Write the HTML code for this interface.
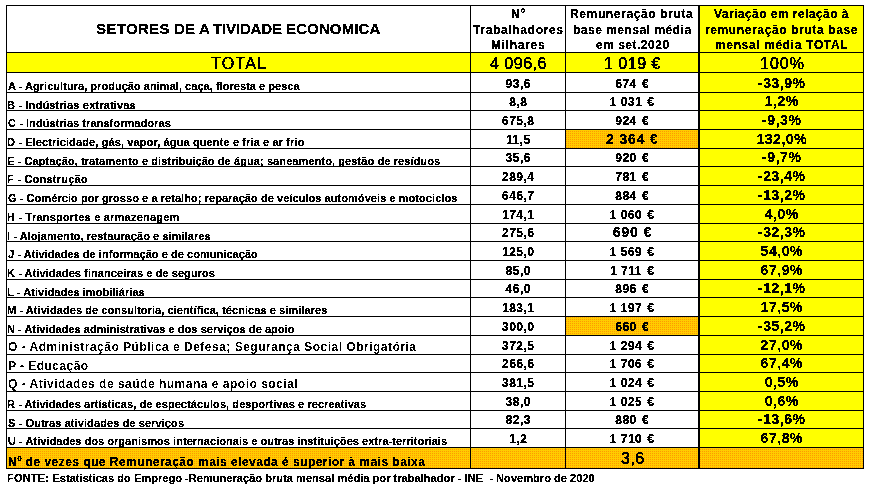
<!DOCTYPE html>
<html lang="pt"><head><meta charset="utf-8"><title>Setores de atividade económica</title><style>
*{margin:0;padding:0;box-sizing:border-box}
html,body{width:871px;height:494px;overflow:hidden;background:#fff}
body{position:relative;font-family:"Liberation Sans",Arial,"Noto Sans CJK SC",sans-serif;color:#000}
.bg{position:absolute}
.y{background:#ffff00}
.o{background-color:#ff9900;background-image:linear-gradient(to right,transparent 1px,#ffcc00 1px),linear-gradient(to bottom,transparent 1px,#ffcc00 1px);background-size:2px 2px}
.h{position:absolute;height:1px;background:#000}
.v{position:absolute;width:1px;background:#000}
.t{position:absolute;white-space:nowrap;line-height:1;filter:url(#bin)}
.c{text-align:center}
</style></head><body>
<svg width="0" height="0" style="position:absolute;left:0;top:0"><filter id="bin" x="-5%" y="-40%" width="110%" height="180%" color-interpolation-filters="sRGB"><feColorMatrix type="matrix" values="0 0 0 0 0  0 0 0 0 0  0 0 0 0 0  0 0 0 1 0"/><feComponentTransfer><feFuncA type="discrete" tableValues="0 1 1"/></feComponentTransfer></filter><filter id="bin2" x="-5%" y="-40%" width="110%" height="180%" color-interpolation-filters="sRGB"><feColorMatrix type="matrix" values="0 0 0 0 0  0 0 0 0 0  0 0 0 0 0  0 0 0 1 0"/><feComponentTransfer><feFuncA type="discrete" tableValues="0 1 1 1"/></feComponentTransfer></filter><filter id="bin3" x="-5%" y="-40%" width="110%" height="180%" color-interpolation-filters="sRGB"><feColorMatrix type="matrix" values="0 0 0 0 0  0 0 0 0 0  0 0 0 0 0  0 0 0 1 0"/><feComponentTransfer><feFuncA type="discrete" tableValues="0 1"/></feComponentTransfer></filter><filter id="bin4" x="-5%" y="-40%" width="110%" height="180%" color-interpolation-filters="sRGB"><feColorMatrix type="matrix" values="0 0 0 0 0  0 0 0 0 0  0 0 0 0 0  0 0 0 1 0"/><feComponentTransfer><feFuncA type="discrete" tableValues="0 0 0 1 1 1 1 1 1 1"/></feComponentTransfer></filter></svg>
<div class="bg y" style="left:700px;top:6px;width:163px;height:46px"></div>
<div class="bg y" style="left:7px;top:53px;width:856px;height:19px"></div>
<div class="bg y" style="left:700px;top:73px;width:163px;height:374px"></div>
<div class="bg o" style="left:566px;top:130px;width:132px;height:18px;background-position:0 1px"></div>
<div class="bg o" style="left:566px;top:317px;width:132px;height:18px;background-position:0 0px"></div>
<div class="bg o" style="left:7px;top:448px;width:856px;height:20px;background-position:1px 1px"></div>
<div class="h" style="left:6px;top:5px;width:858px"></div>
<div class="h" style="left:6px;top:52px;width:858px"></div>
<div class="h" style="left:6px;top:72px;width:858px"></div>
<div class="h" style="left:6px;top:92px;width:858px"></div>
<div class="h" style="left:6px;top:110px;width:858px"></div>
<div class="h" style="left:6px;top:129px;width:858px"></div>
<div class="h" style="left:6px;top:148px;width:858px"></div>
<div class="h" style="left:6px;top:166px;width:858px"></div>
<div class="h" style="left:6px;top:185px;width:858px"></div>
<div class="h" style="left:6px;top:204px;width:858px"></div>
<div class="h" style="left:6px;top:223px;width:858px"></div>
<div class="h" style="left:6px;top:241px;width:858px"></div>
<div class="h" style="left:6px;top:260px;width:858px"></div>
<div class="h" style="left:6px;top:279px;width:858px"></div>
<div class="h" style="left:6px;top:297px;width:858px"></div>
<div class="h" style="left:6px;top:316px;width:858px"></div>
<div class="h" style="left:6px;top:335px;width:858px"></div>
<div class="h" style="left:6px;top:354px;width:858px"></div>
<div class="h" style="left:6px;top:372px;width:858px"></div>
<div class="h" style="left:6px;top:391px;width:858px"></div>
<div class="h" style="left:6px;top:410px;width:858px"></div>
<div class="h" style="left:6px;top:428px;width:858px"></div>
<div class="h" style="left:6px;top:447px;width:858px"></div>
<div class="h" style="left:6px;top:468px;width:858px"></div>
<div class="v" style="left:6px;top:5px;height:464px;width:1px"></div>
<div class="v" style="left:470px;top:5px;height:464px;width:1px"></div>
<div class="v" style="left:565px;top:5px;height:464px;width:1px"></div>
<div class="v" style="left:698px;top:5px;height:464px;width:2px"></div>
<div class="v" style="left:863px;top:5px;height:464px;width:1px"></div>
<div class="t" style="left:96px;top:21px;font-weight:bold;font-size:15px;letter-spacing:0.333px;">SETORES</div>
<div class="t" style="left:174px;top:21px;font-weight:bold;font-size:15px;">D<span style="margin-left:0.17px">E</span></div>
<div class="t" style="left:199px;top:21px;font-weight:bold;font-size:15px;">A<span style="margin-left:3.17px;letter-spacing:-0.143px">TIVIDADE</span></div>
<div class="t" style="left:286px;top:21px;font-weight:bold;font-size:15px;letter-spacing:0.125px;">ECONOMICA</div>
<div class="t" style="left:511px;top:8px;font-weight:bold;font-size:12px;letter-spacing:1.000px;">Nº</div>
<div class="t" style="left:473px;top:24px;font-weight:bold;font-size:12px;letter-spacing:0.667px;">Trabalhadores</div>
<div class="t" style="left:491px;top:39px;font-weight:bold;font-size:12px;letter-spacing:0.714px;">Milhares</div>
<div class="t" style="left:570px;top:8px;font-weight:bold;font-size:12px;letter-spacing:0.625px;">Remuneração bruta</div>
<div class="t" style="left:573px;top:24px;font-weight:bold;font-size:12px;letter-spacing:0.500px;">base mensal média</div>
<div class="t" style="left:596px;top:39px;font-weight:bold;font-size:12px;letter-spacing:0.500px;">em set.2020</div>
<div class="t" style="left:714px;top:8px;font-weight:bold;font-size:12px;letter-spacing:0.450px;">Variação em relação à</div>
<div class="t" style="left:705px;top:24px;font-weight:bold;font-size:12px;letter-spacing:0.619px;">remuneração bruta base</div>
<div class="t" style="left:715px;top:39px;font-weight:bold;font-size:12px;letter-spacing:0.647px;">mensal média TOTAL</div>
<div class="t" style="left:211px;top:56px;filter:url(#bin);-webkit-text-stroke:0.2px #000;font-size:16px;letter-spacing:1.250px;">TOTAL</div>
<div class="t" style="left:490px;top:56px;filter:url(#bin);-webkit-text-stroke:0.2px #000;font-size:16px;letter-spacing:0.500px;">4 096,6</div>
<div class="t" style="left:604px;top:56px;filter:url(#bin);-webkit-text-stroke:0.2px #000;font-size:16px;letter-spacing:0.500px;">1 019 €</div>
<div class="t" style="left:760px;top:56px;filter:url(#bin);-webkit-text-stroke:0.2px #000;font-size:16px;letter-spacing:1.000px;">100%</div>
<div class="t" style="left:8px;top:81px;font-weight:bold;font-size:11px;letter-spacing:0.037px;">A - Agricultura, produção animal, caça, floresta e pesca</div>
<div class="t c" style="left:471px;width:94px;top:78px;font-weight:bold;filter:url(#bin4);font-size:12px;letter-spacing:0.500px;padding-left:0.50px;">93,6</div>
<div class="t c" style="left:566px;width:132px;top:78px;font-weight:bold;filter:url(#bin4);font-size:12px;letter-spacing:0.500px;padding-left:0.50px;">674 <span style="margin-left:1.5px;filter:url(#bin2)">€</span></div>
<div class="t c" style="left:700px;width:163px;top:76px;font-weight:bold;filter:url(#bin);font-size:14px;letter-spacing:0.550px;padding-left:0.55px;">-33,9%</div>
<div class="t" style="left:7px;top:100px;font-weight:bold;font-size:11px;letter-spacing:0.167px;">B - Indústrias extrativas</div>
<div class="t c" style="left:471px;width:94px;top:96px;font-weight:bold;filter:url(#bin4);font-size:12px;letter-spacing:0.500px;padding-left:0.50px;">8,8</div>
<div class="t c" style="left:566px;width:132px;top:96px;font-weight:bold;filter:url(#bin4);font-size:12px;letter-spacing:0.500px;padding-left:0.50px;">1 031 <span style="margin-left:1.5px;filter:url(#bin2)">€</span></div>
<div class="t c" style="left:700px;width:163px;top:94px;font-weight:bold;filter:url(#bin);font-size:14px;letter-spacing:0.550px;padding-left:0.55px;">1,2%</div>
<div class="t" style="left:8px;top:118px;font-weight:bold;font-size:11px;letter-spacing:0.069px;">C - Indústrias transformadoras</div>
<div class="t c" style="left:471px;width:94px;top:115px;font-weight:bold;filter:url(#bin4);font-size:12px;letter-spacing:0.500px;padding-left:0.50px;">675,8</div>
<div class="t c" style="left:566px;width:132px;top:115px;font-weight:bold;filter:url(#bin4);font-size:12px;letter-spacing:0.500px;padding-left:0.50px;">924 <span style="margin-left:1.5px;filter:url(#bin2)">€</span></div>
<div class="t c" style="left:700px;width:163px;top:113px;font-weight:bold;filter:url(#bin);font-size:14px;letter-spacing:0.550px;padding-left:0.55px;">-9,3%</div>
<div class="t" style="left:7px;top:137px;font-weight:bold;font-size:11px;letter-spacing:0.121px;">D - Electricidade, gás, vapor, água quente e fria e ar frio</div>
<div class="t c" style="left:471px;width:94px;top:134px;font-weight:bold;filter:url(#bin4);font-size:12px;letter-spacing:0.500px;padding-left:0.50px;">11,5</div>
<div class="t c" style="left:566px;width:132px;top:132px;font-weight:bold;filter:url(#bin);font-size:14px;letter-spacing:0.850px;padding-left:0.85px;">2 364 €</div>
<div class="t c" style="left:700px;width:163px;top:132px;font-weight:bold;filter:url(#bin);font-size:14px;letter-spacing:0.550px;padding-left:0.55px;">132,0%</div>
<div class="t" style="left:7px;top:156px;font-weight:bold;font-size:11px;letter-spacing:0.090px;">E - Captação, tratamento e distribuição de água; saneamento, gestão de resíduos</div>
<div class="t c" style="left:471px;width:94px;top:152px;font-weight:bold;filter:url(#bin4);font-size:12px;letter-spacing:0.500px;padding-left:0.50px;">35,6</div>
<div class="t c" style="left:566px;width:132px;top:152px;font-weight:bold;filter:url(#bin4);font-size:12px;letter-spacing:0.500px;padding-left:0.50px;">920 <span style="margin-left:1.5px;filter:url(#bin2)">€</span></div>
<div class="t c" style="left:700px;width:163px;top:150px;font-weight:bold;filter:url(#bin);font-size:14px;letter-spacing:0.550px;padding-left:0.55px;">-9,7%</div>
<div class="t" style="left:7px;top:174px;font-weight:bold;font-size:11px;letter-spacing:0.231px;">F - Construção</div>
<div class="t c" style="left:471px;width:94px;top:171px;font-weight:bold;filter:url(#bin4);font-size:12px;letter-spacing:0.500px;padding-left:0.50px;">289,4</div>
<div class="t c" style="left:566px;width:132px;top:171px;font-weight:bold;filter:url(#bin4);font-size:12px;letter-spacing:0.500px;padding-left:0.50px;">781 <span style="margin-left:1.5px;filter:url(#bin2)">€</span></div>
<div class="t c" style="left:700px;width:163px;top:169px;font-weight:bold;filter:url(#bin);font-size:14px;letter-spacing:0.550px;padding-left:0.55px;">-23,4%</div>
<div class="t" style="left:8px;top:193px;font-weight:bold;font-size:11px;letter-spacing:0.061px;">G - Comércio por grosso e a retalho; reparação de veículos automóveis e motociclos</div>
<div class="t c" style="left:471px;width:94px;top:190px;font-weight:bold;filter:url(#bin4);font-size:12px;letter-spacing:0.500px;padding-left:0.50px;">646,7</div>
<div class="t c" style="left:566px;width:132px;top:190px;font-weight:bold;filter:url(#bin4);font-size:12px;letter-spacing:0.500px;padding-left:0.50px;">884 <span style="margin-left:1.5px;filter:url(#bin2)">€</span></div>
<div class="t c" style="left:700px;width:163px;top:188px;font-weight:bold;filter:url(#bin);font-size:14px;letter-spacing:0.550px;padding-left:0.55px;">-13,2%</div>
<div class="t" style="left:7px;top:212px;font-weight:bold;font-size:11px;letter-spacing:0.214px;">H - Transportes e armazenagem</div>
<div class="t c" style="left:471px;width:94px;top:209px;font-weight:bold;filter:url(#bin4);font-size:12px;letter-spacing:0.500px;padding-left:0.50px;">174,1</div>
<div class="t c" style="left:566px;width:132px;top:209px;font-weight:bold;filter:url(#bin4);font-size:12px;letter-spacing:0.500px;padding-left:0.50px;">1 060 <span style="margin-left:1.5px;filter:url(#bin2)">€</span></div>
<div class="t c" style="left:700px;width:163px;top:207px;font-weight:bold;filter:url(#bin);font-size:14px;letter-spacing:0.550px;padding-left:0.55px;">4,0%</div>
<div class="t" style="left:7px;top:231px;font-weight:bold;font-size:11px;letter-spacing:0.079px;">I - Alojamento, restauração e similares</div>
<div class="t c" style="left:471px;width:94px;top:227px;font-weight:bold;filter:url(#bin4);font-size:12px;letter-spacing:0.500px;padding-left:0.50px;">275,6</div>
<div class="t c" style="left:566px;width:132px;top:225px;font-weight:bold;filter:url(#bin);font-size:14px;letter-spacing:0.850px;padding-left:0.85px;">690 €</div>
<div class="t c" style="left:700px;width:163px;top:225px;font-weight:bold;filter:url(#bin);font-size:14px;letter-spacing:0.550px;padding-left:0.55px;">-32,3%</div>
<div class="t" style="left:8px;top:249px;font-weight:bold;font-size:11px;letter-spacing:0.045px;">J - Atividades de informação e de comunicação</div>
<div class="t c" style="left:471px;width:94px;top:246px;font-weight:bold;filter:url(#bin4);font-size:12px;letter-spacing:0.500px;padding-left:0.50px;">125,0</div>
<div class="t c" style="left:566px;width:132px;top:246px;font-weight:bold;filter:url(#bin4);font-size:12px;letter-spacing:0.500px;padding-left:0.50px;">1 569 <span style="margin-left:1.5px;filter:url(#bin2)">€</span></div>
<div class="t c" style="left:700px;width:163px;top:244px;font-weight:bold;filter:url(#bin);font-size:14px;letter-spacing:0.550px;padding-left:0.55px;">54,0%</div>
<div class="t" style="left:7px;top:268px;font-weight:bold;font-size:11px;letter-spacing:0.078px;">K - Atividades financeiras e de seguros</div>
<div class="t c" style="left:471px;width:94px;top:265px;font-weight:bold;filter:url(#bin4);font-size:12px;letter-spacing:0.500px;padding-left:0.50px;">85,0</div>
<div class="t c" style="left:566px;width:132px;top:265px;font-weight:bold;filter:url(#bin4);font-size:12px;letter-spacing:0.500px;padding-left:0.50px;">1 711 <span style="margin-left:1.5px;filter:url(#bin2)">€</span></div>
<div class="t c" style="left:700px;width:163px;top:263px;font-weight:bold;filter:url(#bin);font-size:14px;letter-spacing:0.550px;padding-left:0.55px;">67,9%</div>
<div class="t" style="left:7px;top:287px;font-weight:bold;font-size:11px;letter-spacing:0.077px;">L - Atividades imobiliárias</div>
<div class="t c" style="left:471px;width:94px;top:283px;font-weight:bold;filter:url(#bin4);font-size:12px;letter-spacing:0.500px;padding-left:0.50px;">46,0</div>
<div class="t c" style="left:566px;width:132px;top:283px;font-weight:bold;filter:url(#bin4);font-size:12px;letter-spacing:0.500px;padding-left:0.50px;">896 <span style="margin-left:1.5px;filter:url(#bin2)">€</span></div>
<div class="t c" style="left:700px;width:163px;top:281px;font-weight:bold;filter:url(#bin);font-size:14px;letter-spacing:0.550px;padding-left:0.55px;">-12,1%</div>
<div class="t" style="left:7px;top:305px;font-weight:bold;font-size:11px;letter-spacing:0.065px;">M - Atividades de consultoria, científica, técnicas e similares</div>
<div class="t c" style="left:471px;width:94px;top:302px;font-weight:bold;filter:url(#bin4);font-size:12px;letter-spacing:0.500px;padding-left:0.50px;">183,1</div>
<div class="t c" style="left:566px;width:132px;top:302px;font-weight:bold;filter:url(#bin4);font-size:12px;letter-spacing:0.500px;padding-left:0.50px;">1 197 <span style="margin-left:1.5px;filter:url(#bin2)">€</span></div>
<div class="t c" style="left:700px;width:163px;top:300px;font-weight:bold;filter:url(#bin);font-size:14px;letter-spacing:0.550px;padding-left:0.55px;">17,5%</div>
<div class="t" style="left:7px;top:324px;font-weight:bold;font-size:11px;letter-spacing:0.057px;">N - Atividades administrativas e dos serviços de apoio</div>
<div class="t c" style="left:471px;width:94px;top:321px;font-weight:bold;filter:url(#bin4);font-size:12px;letter-spacing:0.500px;padding-left:0.50px;">300,0</div>
<div class="t c" style="left:566px;width:132px;top:321px;font-weight:bold;filter:url(#bin4);font-size:12px;letter-spacing:0.500px;padding-left:0.50px;">660 <span style="margin-left:1.5px;filter:url(#bin2)">€</span></div>
<div class="t c" style="left:700px;width:163px;top:319px;font-weight:bold;filter:url(#bin);font-size:14px;letter-spacing:0.550px;padding-left:0.55px;">-35,2%</div>
<div class="t" style="left:8px;top:341px;font-weight:bold;filter:url(#bin3);font-size:12px;letter-spacing:0.492px;">O - Administração Pública e Defesa; Segurança Social Obrigatória</div>
<div class="t c" style="left:471px;width:94px;top:340px;font-weight:bold;filter:url(#bin4);font-size:12px;letter-spacing:0.500px;padding-left:0.50px;">372,5</div>
<div class="t c" style="left:566px;width:132px;top:340px;font-weight:bold;filter:url(#bin4);font-size:12px;letter-spacing:0.500px;padding-left:0.50px;">1 294 <span style="margin-left:1.5px;filter:url(#bin2)">€</span></div>
<div class="t c" style="left:700px;width:163px;top:338px;font-weight:bold;filter:url(#bin);font-size:14px;letter-spacing:0.550px;padding-left:0.55px;">27,0%</div>
<div class="t" style="left:8px;top:360px;font-weight:bold;filter:url(#bin3);font-size:12px;letter-spacing:0.454px;">P - Educação</div>
<div class="t c" style="left:471px;width:94px;top:358px;font-weight:bold;filter:url(#bin4);font-size:12px;letter-spacing:0.500px;padding-left:0.50px;">266,6</div>
<div class="t c" style="left:566px;width:132px;top:358px;font-weight:bold;filter:url(#bin4);font-size:12px;letter-spacing:0.500px;padding-left:0.50px;">1 706 <span style="margin-left:1.5px;filter:url(#bin2)">€</span></div>
<div class="t c" style="left:700px;width:163px;top:356px;font-weight:bold;filter:url(#bin);font-size:14px;letter-spacing:0.550px;padding-left:0.55px;">67,4%</div>
<div class="t" style="left:8px;top:378px;font-weight:bold;filter:url(#bin3);font-size:12px;letter-spacing:0.501px;">Q - Atividades de saúde humana e apoio social</div>
<div class="t c" style="left:471px;width:94px;top:377px;font-weight:bold;filter:url(#bin4);font-size:12px;letter-spacing:0.500px;padding-left:0.50px;">381,5</div>
<div class="t c" style="left:566px;width:132px;top:377px;font-weight:bold;filter:url(#bin4);font-size:12px;letter-spacing:0.500px;padding-left:0.50px;">1 024 <span style="margin-left:1.5px;filter:url(#bin2)">€</span></div>
<div class="t c" style="left:700px;width:163px;top:375px;font-weight:bold;filter:url(#bin);font-size:14px;letter-spacing:0.550px;padding-left:0.55px;">0,5%</div>
<div class="t" style="left:7px;top:399px;font-weight:bold;font-size:11px;letter-spacing:0.073px;">R - Atividades artísticas, de espectáculos, desportivas e recreativas</div>
<div class="t c" style="left:471px;width:94px;top:396px;font-weight:bold;filter:url(#bin4);font-size:12px;letter-spacing:0.500px;padding-left:0.50px;">38,0</div>
<div class="t c" style="left:566px;width:132px;top:396px;font-weight:bold;filter:url(#bin4);font-size:12px;letter-spacing:0.500px;padding-left:0.50px;">1 025 <span style="margin-left:1.5px;filter:url(#bin2)">€</span></div>
<div class="t c" style="left:700px;width:163px;top:394px;font-weight:bold;filter:url(#bin);font-size:14px;letter-spacing:0.550px;padding-left:0.55px;">0,6%</div>
<div class="t" style="left:8px;top:418px;font-weight:bold;font-size:11px;letter-spacing:0.093px;">S - Outras atividades de serviços</div>
<div class="t c" style="left:471px;width:94px;top:414px;font-weight:bold;filter:url(#bin4);font-size:12px;letter-spacing:0.500px;padding-left:0.50px;">82,3</div>
<div class="t c" style="left:566px;width:132px;top:414px;font-weight:bold;filter:url(#bin4);font-size:12px;letter-spacing:0.500px;padding-left:0.50px;">880 <span style="margin-left:1.5px;filter:url(#bin2)">€</span></div>
<div class="t c" style="left:700px;width:163px;top:412px;font-weight:bold;filter:url(#bin);font-size:14px;letter-spacing:0.550px;padding-left:0.55px;">-13,6%</div>
<div class="t" style="left:8px;top:436px;font-weight:bold;font-size:11px;letter-spacing:0.036px;">U - Atividades dos organismos internacionais e outras instituições extra-territoriais</div>
<div class="t c" style="left:471px;width:94px;top:433px;font-weight:bold;filter:url(#bin4);font-size:12px;letter-spacing:0.500px;padding-left:0.50px;">1,2</div>
<div class="t c" style="left:566px;width:132px;top:433px;font-weight:bold;filter:url(#bin4);font-size:12px;letter-spacing:0.500px;padding-left:0.50px;">1 710 <span style="margin-left:1.5px;filter:url(#bin2)">€</span></div>
<div class="t c" style="left:700px;width:163px;top:431px;font-weight:bold;filter:url(#bin);font-size:14px;letter-spacing:0.550px;padding-left:0.55px;">67,8%</div>
<div class="t" style="left:8px;top:456px;font-weight:bold;font-size:12px;letter-spacing:0.460px;">Nº de vezes que Remuneração mais elevada é superior à mais baixa</div>
<div class="t" style="left:621px;top:451px;filter:url(#bin);-webkit-text-stroke:0.2px #000;font-size:16px;letter-spacing:0.500px;">3,6</div>
<div class="t" style="left:7px;top:473px;font-weight:bold;font-size:11px;letter-spacing:0.200px;">FONTE: <span style="letter-spacing:0.052px">Estatisticas do Emprego -Remuneração bruta mensal média por trabalhador - INE &nbsp;- Novembro de 2020</span></div>
</body></html>
